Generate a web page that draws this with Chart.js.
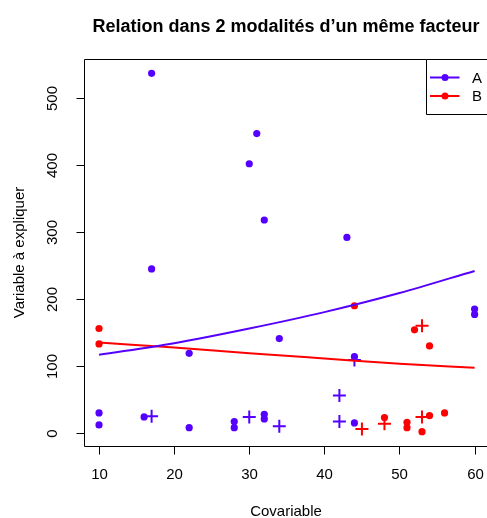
<!DOCTYPE html>
<html><head><meta charset="utf-8">
<script src="https://cdn.jsdelivr.net/npm/chart.js@4/dist/chart.umd.min.js"></script>
<style>html,body{margin:0;padding:0;background:#fff}#wrap{width:487px;height:518px;position:relative}</style>
</head><body><div id="wrap"><canvas id="c" width="487" height="518"></canvas></div>
<script>
const titleText = "Relation dans 2 modalités d’un même facteur";
const xTitle = "Covariable";
const yTitle = "Variable à expliquer";
const xTicks = [10, 20, 30, 40, 50, 60];
const yTicks = [0, 100, 200, 300, 400, 500];
const legendLabels = ["A", "B"];

// Modalité A : points observés
const aX = [17, 31, 30, 32, 17, 43, 22, 34, 44, 60, 60, 10, 10, 16, 22, 28, 28, 32, 32, 44];
const aY = [537, 447, 402, 318, 245, 292, 119, 141, 114, 185, 177, 30, 12, 24, 8, 17, 8, 28, 21, 15];
// Modalité A : croix
const aPlusX = [17, 30, 34, 44, 42, 42];
const aPlusY = [25, 24, 10, 109, 56, 17];
// Modalité B : points observés
const bX = [10, 10, 44, 52, 54, 48, 51, 51, 53, 54, 56];
const bY = [156, 133, 190, 154, 130, 23, 16, 8, 2, 26, 30];
// Modalité B : croix
const bPlusX = [53, 45, 48, 53];
const bPlusY = [160, 6, 14, 24];
// Courbes ajustées
const curveX = [10, 20, 30, 40, 50, 60];
const aCurveY = [116.7, 134, 156, 180.5, 209, 242];
const bCurveY = [135, 127.6, 119.2, 111.2, 103.3, 97.3];

const purple = "#5500ff", red = "#ff0000";
const FONT = '"Liberation Sans", Arial, Helvetica, sans-serif';
const pts = (xs, ys) => xs.map((x, i) => ({x: x, y: ys[i]}));

const rStyle = {
  id: 'rStyle',
  afterDraw(chart) {
    const ctx = chart.ctx, a = chart.chartArea;
    const xs = chart.scales.x, ys = chart.scales.y;
    ctx.save();
    ctx.strokeStyle = '#000'; ctx.lineWidth = 1; ctx.fillStyle = '#000';
    const L = Math.round(a.left) + 0.5, T = Math.round(a.top) + 0.5;
    const B = Math.round(a.bottom) + 0.5, R = chart.width + 2;
    // plot box (its right side lies beyond the canvas edge)
    ctx.beginPath(); ctx.moveTo(R, T); ctx.lineTo(L, T); ctx.lineTo(L, B); ctx.lineTo(R, B); ctx.stroke();
    // x ticks
    ctx.font = '15px ' + FONT;
    ctx.textAlign = 'center'; ctx.textBaseline = 'middle';
    xTicks.forEach(v => {
      const px = Math.round(xs.getPixelForValue(v)) + 0.5;
      ctx.beginPath(); ctx.moveTo(px, B); ctx.lineTo(px, B + 8); ctx.stroke();
      ctx.fillText(String(v), px, 475);
    });
    // y ticks
    yTicks.forEach(v => {
      const py = Math.round(ys.getPixelForValue(v)) + 0.5;
      ctx.beginPath(); ctx.moveTo(L, py); ctx.lineTo(L - 8, py); ctx.stroke();
      ctx.save(); ctx.translate(53, py); ctx.rotate(-Math.PI / 2);
      ctx.fillText(String(v), 0, 0); ctx.restore();
    });
    // axis titles
    ctx.fillText(xTitle, 286, 512);
    ctx.save(); ctx.translate(20, (a.top + a.bottom) / 2); ctx.rotate(-Math.PI / 2);
    ctx.fillText(yTitle, 0, 0); ctx.restore();
    // title
    ctx.font = 'bold 18px ' + FONT;
    ctx.textBaseline = 'alphabetic';
    ctx.fillText(titleText, 286, 31.5);
    // legend
    const lx = 426.5, lt = T, lb = 114.5;
    ctx.fillStyle = '#fff';
    ctx.fillRect(lx, lt, chart.width - lx, lb - lt);
    ctx.beginPath(); ctx.moveTo(R, lt); ctx.lineTo(lx, lt); ctx.lineTo(lx, lb); ctx.lineTo(R, lb); ctx.stroke();
    const cols = [purple, red], rows = [77.5, 96];
    ctx.font = '15px ' + FONT; ctx.textAlign = 'left'; ctx.textBaseline = 'middle';
    legendLabels.forEach((lab, i) => {
      ctx.strokeStyle = cols[i]; ctx.fillStyle = cols[i]; ctx.lineWidth = 2;
      ctx.beginPath(); ctx.moveTo(430, rows[i]); ctx.lineTo(459.5, rows[i]); ctx.stroke();
      ctx.beginPath(); ctx.arc(445, rows[i], 3.5, 0, Math.PI * 2); ctx.fill();
      ctx.fillStyle = '#000';
      ctx.fillText(lab, 472, rows[i] + 1);
    });
    ctx.restore();
  }
};

new Chart(document.getElementById('c').getContext('2d'), {
  type: 'scatter',
  data: {
    datasets: [
      {label: 'A fit', data: pts(curveX, aCurveY), showLine: true, borderColor: purple, borderWidth: 2,
       pointRadius: 0, cubicInterpolationMode: 'monotone', fill: false},
      {label: 'B fit', data: pts(curveX, bCurveY), showLine: true, borderColor: red, borderWidth: 2,
       pointRadius: 0, cubicInterpolationMode: 'monotone', fill: false},
      {label: 'A', data: pts(aX, aY), backgroundColor: purple, borderWidth: 0, pointRadius: 3.6},
      {label: 'B', data: pts(bX, bY), backgroundColor: red, borderWidth: 0, pointRadius: 3.6},
      {label: 'A+', data: pts(aPlusX, aPlusY), pointStyle: 'cross', borderColor: purple, borderWidth: 2, pointRadius: 6.5},
      {label: 'B+', data: pts(bPlusX, bPlusY), pointStyle: 'cross', borderColor: red, borderWidth: 2, pointRadius: 6.5}
    ]
  },
  options: {
    responsive: false, animation: false, events: [],
    layout: {autoPadding: false, padding: {left: 84, top: 59, right: 0, bottom: 72}},
    plugins: {legend: {display: false}, tooltip: {enabled: false}, title: {display: false}},
    scales: {
      x: {type: 'linear', min: 8, max: 61.65, display: false},
      y: {type: 'linear', min: -19.4, max: 558.4, display: false}
    }
  },
  plugins: [rStyle]
});
</script></body></html>
